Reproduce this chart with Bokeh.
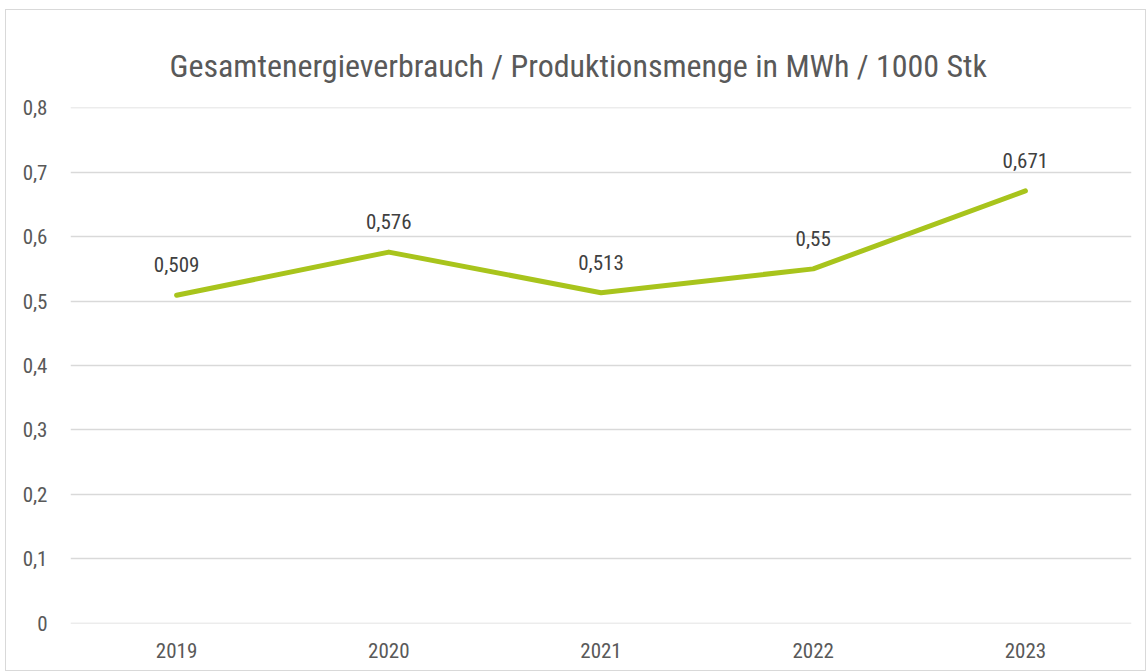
from bokeh.plotting import figure
from bokeh.models import FixedTicker, ColumnDataSource, LabelSet, Range1d, FactorRange
from bokeh.core.properties import value
from bokeh.embed import file_html
from bokeh.resources import INLINE

years = ["2019", "2020", "2021", "2022", "2023"]
values = [0.509, 0.576, 0.513, 0.55, 0.671]
value_labels = ["0,509", "0,576", "0,513", "0,55", "0,671"]
y_ticks = [0, 0.1, 0.2, 0.3, 0.4, 0.5, 0.6, 0.7, 0.8]
y_tick_labels = ["0", "0,1", "0,2", "0,3", "0,4", "0,5", "0,6", "0,7", "0,8"]
title_text = "Gesamtenergieverbrauch / Produktionsmenge in MWh / 1000 Stk"

FONT = "'Roboto Condensed', 'DejaVu Sans Condensed', 'Liberation Sans Narrow', 'Arial Narrow', Roboto"

p = figure(x_range=FactorRange(*years, range_padding=0), y_range=Range1d(-0.0005, 0.8005),
           width=1141, height=662, output_backend="svg", toolbar_location=None,
           min_border_left=64, min_border_right=16, min_border_top=97, min_border_bottom=49)
p.styles = {"border": "1px solid #d9d9d9", "box-sizing": "border-box",
            "margin-left": "5px", "margin-top": "9px"}
p.outline_line_color = None
p.background_fill_color = "white"
p.border_fill_color = "white"

src = ColumnDataSource(dict(x=years, y=values, lab=value_labels))
p.line("x", "y", source=src, line_color="#a8c41c", line_width=5, line_cap="round", line_join="round")

labels = LabelSet(x="x", y="y", text="lab", source=src, y_offset=23, text_align="center",
                  text_baseline="bottom", text_font=value(FONT), text_font_size="21px",
                  text_font_style="normal", text_color="#404040")
p.add_layout(labels)

p.yaxis.ticker = FixedTicker(ticks=y_ticks)
p.yaxis.major_label_overrides = {t: l for t, l in zip(y_ticks, y_tick_labels)}
for ax in (p.xaxis[0], p.yaxis[0]):
    ax.axis_line_color = None
    ax.major_tick_line_color = None
    ax.minor_tick_line_color = None
    ax.major_label_text_font = FONT
    ax.major_label_text_font_size = "21px"
    ax.major_label_text_color = "#595959"
p.yaxis.major_label_standoff = 17
p.xaxis.major_label_standoff = 13

p.xgrid.grid_line_color = None
p.ygrid.grid_line_color = "#d9d9d9"
p.ygrid.grid_line_width = 1.5

p.title.text = title_text
p.title.align = "left"
p.title.vertical_align = "middle"
p.title.offset = 99
p.title.standoff = 44
p.title.text_font = FONT
p.title.text_font_size = "32px"
p.title.text_font_style = "normal"
p.title.text_color = "#595959"

open("out.html", "w").write(file_html(p, INLINE))
